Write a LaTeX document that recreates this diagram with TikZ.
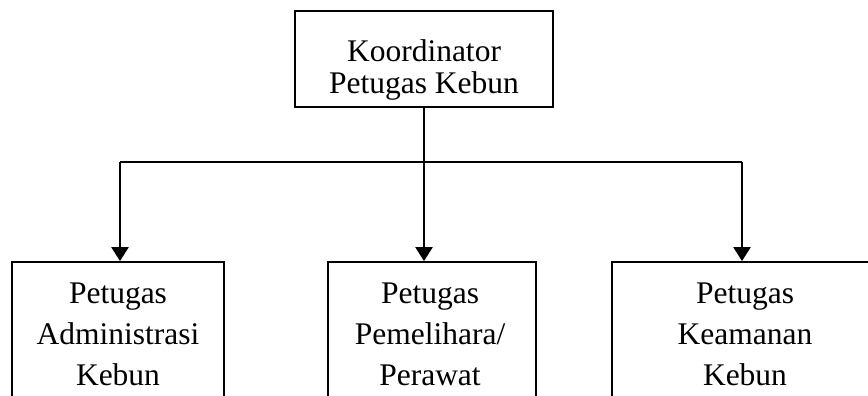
\documentclass[tikz,border=0pt]{standalone}
\usepackage{fontspec}
\setmainfont{Liberation Serif}
\usetikzlibrary{arrows.meta}
\tikzset{
  box/.style={draw, line width=1.8pt, inner sep=0pt, rectangle},
  lbl/.style={inner sep=0pt, anchor=base, font=\fontsize{31.5pt}{31.5pt}\selectfont},
  conn/.style={line width=2.4pt},
  arr/.style={line width=2.4pt, -{Triangle[width=17pt,length=14pt]}}
}
\begin{document}
\begin{tikzpicture}[x=1pt,y=-1pt]
\useasboundingbox (0,0) rectangle (868,396);
\clip (0,0) rectangle (868,396);
\fill[white] (0,0) rectangle (868,396);
% boxes
\node[box, minimum width=258pt, minimum height=96pt] (top) at (424,59) {};
\node[box, minimum width=212pt, minimum height=240pt] (adm) at (118,382) {};
\node[box, minimum width=208pt, minimum height=240pt] (pem) at (432,382) {};
\node[box, minimum width=266pt, minimum height=240pt] (kea) at (745,382) {};
% labels
\node[lbl] (t1) at (424,62) {Koordinator};
\node[lbl] (t2) at (424,93.3) {Petugas Kebun};
\node[lbl] (a1) at (118,303) {Petugas};
\node[lbl] (a2) at (118,344) {Administrasi};
\node[lbl] (a3) at (118,385.5) {Kebun};
\node[lbl] (p1) at (430,303) {Petugas};
\node[lbl] (p2) at (430,344) {Pemelihara/};
\node[lbl] (p3) at (430,385.5) {Perawat};
\node[lbl] (k1) at (745,303) {Petugas};
\node[lbl] (k2) at (745,344) {Keamanan};
\node[lbl] (k3) at (745,385.5) {Kebun};
% connectors
\coordinate (jl) at (120,162);
\coordinate (jr) at (742,162);
\draw[arr] (top.south) -- (top.south |- pem.north);
\draw[conn] (jl) -- (jr);
\draw[arr] (jl) -- (jl |- adm.north);
\draw[arr] (jr) -- (jr |- kea.north);
\end{tikzpicture}
\end{document}
